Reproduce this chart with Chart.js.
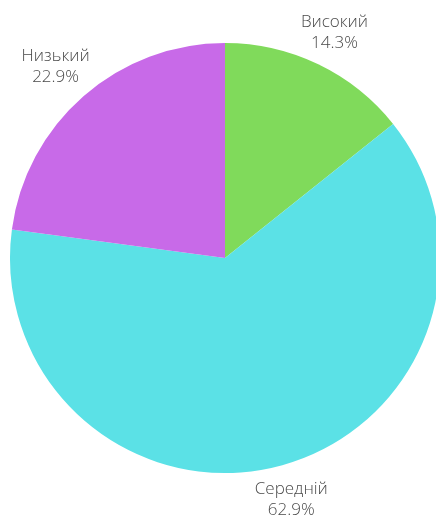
<!DOCTYPE html>
<html>
<head>
<meta charset="utf-8">
<script src="https://cdn.jsdelivr.net/npm/chart.js@4/dist/chart.umd.min.js"></script>
<style>
html,body{margin:0;padding:0;background:#fff;overflow:hidden;width:436px;height:521px;}
#wrap{width:450px;height:521px;}
</style>
</head>
<body>
<div id="wrap"><canvas id="c" width="450" height="521"></canvas></div>
<script>
const categories = ["Високий", "Середній", "Низький"];
const percentValues = [14.3, 62.9, 22.9];
const sliceColors = ["#80da5b", "#5be1e6", "#c86ae8"];

const outsideLabels = {
  id: "outsideLabels",
  afterDatasetsDraw(chart) {
    const ctx = chart.ctx;
    const meta = chart.getDatasetMeta(0);
    const lineGap = 21;
    ctx.save();
    ctx.font = "300 17px 'Open Sans'";
    ctx.fillStyle = "#4a4a4a";
    ctx.textAlign = "center";
    ctx.textBaseline = "middle";
    meta.data.forEach((arc, i) => {
      const l1 = categories[i];
      const l2 = percentValues[i].toFixed(1) + "%";
      const w = Math.max(ctx.measureText(l1).width, ctx.measureText(l2).width);
      const h = lineGap + 16;
      const mid = (arc.startAngle + arc.endAngle) / 2;
      const dx = Math.cos(mid), dy = Math.sin(mid);
      const ext = Math.abs(dx) * w / 2 + Math.abs(dy) * h / 2;
      const r = arc.outerRadius + 6 + ext;
      const x = arc.x + dx * r;
      const y = arc.y + dy * r + 2;
      ctx.fillText(l1, x, y - lineGap / 2);
      ctx.fillText(l2, x, y + lineGap / 2);
    });
    ctx.restore();
  }
};

new Chart(document.getElementById("c"), {
  type: "pie",
  data: {
    labels: categories,
    datasets: [{
      data: percentValues,
      backgroundColor: sliceColors,
      borderWidth: 0
    }]
  },
  options: {
    responsive: false,
    animation: false,
    devicePixelRatio: 1,
    layout: { padding: { top: 43, bottom: 48, left: 10, right: 10 } },
    plugins: {
      legend: { display: false },
      tooltip: { enabled: false }
    }
  },
  plugins: [outsideLabels]
});
</script>
</body>
</html>
